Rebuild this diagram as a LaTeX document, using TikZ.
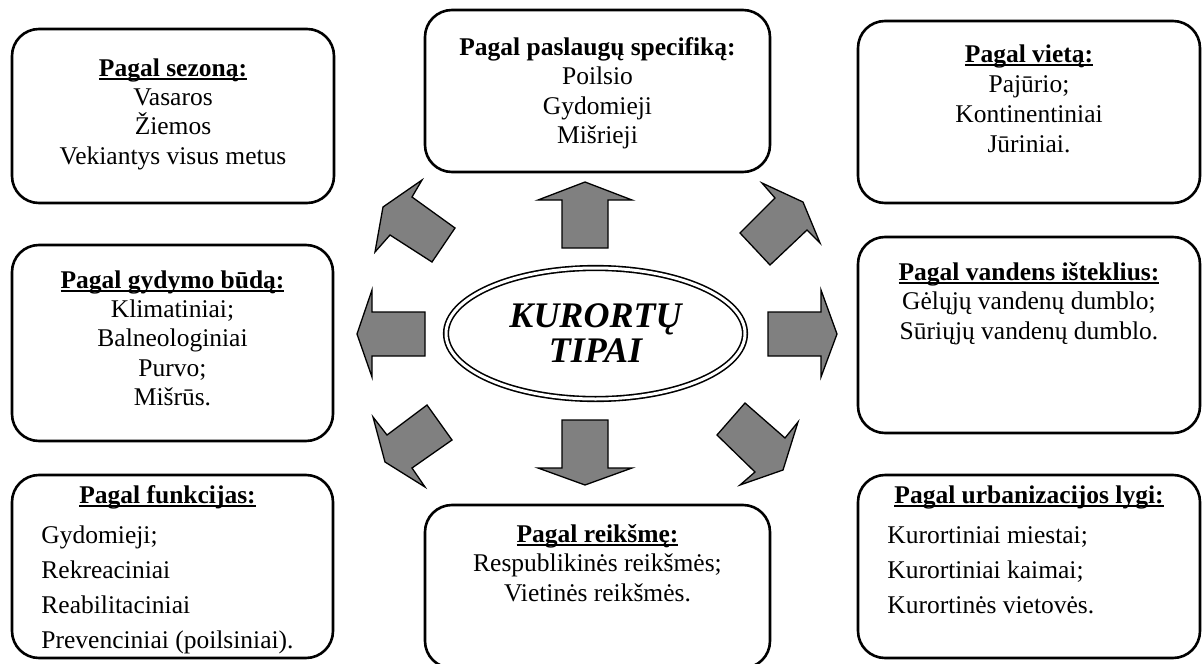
\documentclass[tikz,border=0pt]{standalone}
\usepackage{fontspec}
\setmainfont{Liberation Serif}
\usetikzlibrary{positioning,shapes.geometric}

\newsavebox{\hdbox}
\newcommand{\hd}[1]{\textbf{\sbox{\hdbox}{#1}\rlap{\rule[-3.5pt]{\wd\hdbox}{1.8pt}}\usebox{\hdbox}}}

\definecolor{arrowgray}{HTML}{808080}

\tikzset{frame/.style={%
  draw,
  line width=2.6pt,
  rounded corners=27pt,
  inner sep=0pt,
  outer sep=0pt,
  }
}
\tikzset{txt/.style={%
  inner sep=0pt,
  outer sep=0pt,
  align=center,
  font=\fontsize{25.5}{29.3}\selectfont,
  }
}
\tikzset{blockarrow/.style={%
  draw,
  fill=arrowgray,
  line width=1.3pt,
  line join=miter,
  }
}
\tikzset{hub/.style={%
  ellipse,
  draw,
  double,
  double distance=3pt,
  line width=1.6pt,
  minimum width=299pt,
  minimum height=131pt,
  inner sep=0pt,
  align=center,
  font=\fontsize{36}{35}\selectfont\bfseries\itshape,
  }
}

\begin{document}
\begin{tikzpicture}[x=1pt,y=-1pt]
  \useasboundingbox (0,0) rectangle (1203,664);

  \node (sezon) [frame, minimum width=322pt, minimum height=174pt] at (173,116) {};
  \node (specif) [frame, minimum width=345pt, minimum height=162pt] at (597.5,91) {};
  \node (vieta) [frame, minimum width=342pt, minimum height=182pt] at (1029,112) {};
  \node (gydymo) [frame, minimum width=321pt, minimum height=196pt] at (172.5,343) {};
  \node (vanduo) [frame, minimum width=342pt, minimum height=196pt] at (1029,335) {};
  \node (funkc) [frame, minimum width=321pt, minimum height=183pt] at (172.5,566.5) {};
  \node (reiksme) [frame, minimum width=345pt, minimum height=163pt] at (597.5,586.5) {};
  \node (urban) [frame, minimum width=342pt, minimum height=183pt] at (1029,566.5) {};

  \node (sezontxt) [txt, below=29.7pt of sezon.north] {\hd{Pagal sezoną:}\\ Vasaros\\ Žiemos\\ Vekiantys visus metus};
  \node (speciftxt) [txt, below=27.7pt of specif.north] {\textbf{Pagal paslaugų specifiką:}\\ Poilsio\\ Gydomieji\\ Mišrieji};
  \node (vietatxt) [txt, below=23.7pt of vieta.north, font=\fontsize{25.5}{30}\selectfont] {\hd{Pagal vietą:}\\ Pajūrio;\\ Kontinentiniai\\ Jūriniai.};
  \node (gydymotxt) [txt, below=25.7pt of gydymo.north] {\hd{Pagal gydymo būdą:}\\ Klimatiniai;\\ Balneologiniai\\ Purvo;\\ Mišrūs.};
  \node (vanduotxt) [txt, below=25.7pt of vanduo.north] {\hd{Pagal vandens išteklius:}\\ Gėlųjų vandenų dumblo;\\ Sūriųjų vandenų dumblo.};
  \node (reiksmetxt) [txt, below=19.7pt of reiksme.north] {\hd{Pagal reikšmę:}\\ Respublikinės reikšmės;\\ Vietinės reikšmės.};
  \node (funkctxt) [txt, below=3.4pt of funkc.north, xshift=-5pt] {\renewcommand{\arraystretch}{1.2}%
    \begin{tabular}{@{}l@{}}
      \multicolumn{1}{@{}c@{}}{\hd{Pagal funkcijas:}}\\[5pt]
      Gydomieji;\\ Rekreaciniai\\ Reabilitaciniai\\ Prevenciniai (poilsiniai).
    \end{tabular}};
  \node (urbantxt) [txt, below=3.4pt of urban.north] {\renewcommand{\arraystretch}{1.2}%
    \begin{tabular}{@{}l@{}}
      \multicolumn{1}{@{}c@{}}{\hd{Pagal urbanizacijos lygi:}}\\[5pt]
      \hspace*{-7pt}Kurortiniai miestai;\\ \hspace*{-7pt}Kurortiniai kaimai;\\ \hspace*{-7pt}Kurortinės vietovės.
    \end{tabular}};

  % block arrows round the centre
  \draw [blockarrow] (585,182) -- (632,200) -- (608,200) -- (608,248) -- (562,248) -- (562,200) -- (538,200) -- cycle;
  \draw [blockarrow] (585,485) -- (632,468) -- (608,468) -- (608,420) -- (562,420) -- (562,468) -- (538,468) -- cycle;
  \draw [blockarrow] (357,334) -- (372,290) -- (372,312) -- (425,312) -- (425,356) -- (372,356) -- (372,377) -- cycle;
  \draw [blockarrow] (837,334) -- (821,290) -- (821,312) -- (768,312) -- (768,356) -- (821,356) -- (821,377) -- cycle;
  \draw [blockarrow] (422,180) -- (412,197) -- (455,228) -- (432,262) -- (390,235) -- (375,252) -- (383,207) -- cycle;
  \draw [blockarrow] (762,183) -- (775,198) -- (740,233) -- (770,265) -- (807,230) -- (820,243) -- (803,202) -- cycle;
  \draw [blockarrow] (373,417) -- (387,435) -- (427,405) -- (452,440) -- (412,468) -- (425,487) -- (385,462) -- cycle;
  \draw [blockarrow] (745,403) -- (785,438) -- (798,422) -- (783,470) -- (740,485) -- (755,472) -- (717,435) -- cycle;

  \node (hub) [hub] at (595.5,333.5) {KURORTŲ\\TIPAI};
\end{tikzpicture}
\end{document}
